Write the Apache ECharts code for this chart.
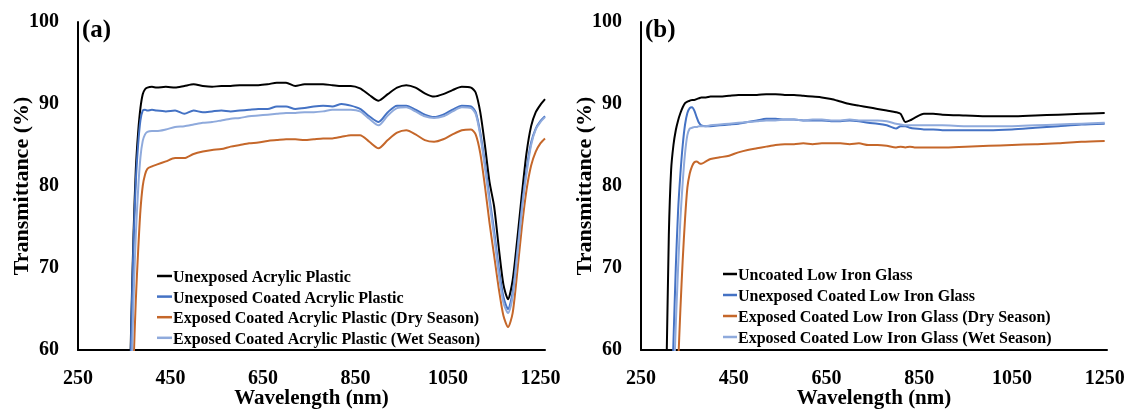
<!DOCTYPE html>
<html>
<head>
<meta charset="utf-8">
<script src="https://cdn.jsdelivr.net/npm/echarts@6/dist/echarts.min.js"></script>
<style>
  html, body { margin: 0; padding: 0; background: #ffffff; }
  #chart { width: 1136px; height: 412px; }
</style>
</head>
<body>
<div id="chart"></div>
<script>
// Panel (a): acrylic plastic transmittance spectra
const wavelengthA = [355, 360, 365, 370, 375, 380, 385, 390, 395, 400, 410, 420, 440, 460, 480, 500, 520, 540, 560, 580, 600, 620, 640, 660, 680, 700, 720, 740, 760, 780, 800, 820, 840, 860, 880, 900, 920, 940, 960, 980, 1000, 1020, 1040, 1060, 1080, 1100, 1110, 1120, 1130, 1140, 1150, 1160, 1170, 1180, 1190, 1200, 1210, 1220, 1230, 1240, 1250, 1260];
const unexposedAcrylic = [40, 50, 63, 74, 82, 86.5, 89.5, 91.2, 91.8, 92.0, 92.1, 92.0, 92.1, 92.0, 92.2, 92.4, 92.2, 92.1, 92.2, 92.2, 92.3, 92.3, 92.3, 92.4, 92.6, 92.6, 92.2, 92.4, 92.4, 92.4, 92.3, 92.2, 92.2, 91.9, 91.1, 90.4, 91.2, 92.0, 92.3, 92.0, 91.3, 90.9, 91.2, 91.7, 92.1, 92.0, 91.4, 89.0, 85.0, 80.5, 77.5, 72.5, 68.0, 66.2, 68.5, 73.5, 79.0, 84.0, 87.3, 89.0, 89.9, 90.6];
const unexposedCoatedAcrylic = [38, 48, 62, 73, 80.5, 85, 88, 89.2, 89.3, 89.2, 89.3, 89.2, 89.1, 89.2, 88.8, 89.2, 89.0, 89.1, 89.2, 89.1, 89.2, 89.3, 89.4, 89.4, 89.7, 89.7, 89.4, 89.5, 89.7, 89.8, 89.7, 90.0, 89.8, 89.4, 88.5, 87.8, 89.0, 89.8, 89.8, 89.3, 88.7, 88.4, 88.7, 89.3, 89.8, 89.7, 89.0, 86.5, 82.8, 78.5, 74.5, 70.0, 66.5, 65.0, 67.0, 72.0, 77.5, 82.0, 85.3, 87.0, 87.9, 88.5];
const dryAcrylic = [25, 35, 48, 58, 66, 72, 77, 80, 81.4, 82.1, 82.4, 82.6, 83.0, 83.4, 83.4, 83.9, 84.2, 84.4, 84.5, 84.8, 85.0, 85.2, 85.3, 85.5, 85.6, 85.7, 85.7, 85.6, 85.7, 85.8, 85.8, 86.0, 86.2, 86.2, 85.4, 84.6, 85.6, 86.5, 86.8, 86.3, 85.6, 85.4, 85.7, 86.3, 86.8, 86.9, 86.3, 84.0, 80.0, 75.5, 71.5, 67.5, 64.2, 62.8, 64.5, 69.5, 75.0, 79.5, 82.5, 84.2, 85.2, 85.8];
const wetAcrylic = [30, 40, 55, 66, 74, 79.5, 83.5, 85.5, 86.3, 86.6, 86.7, 86.7, 86.9, 87.2, 87.3, 87.5, 87.7, 87.8, 88.0, 88.2, 88.3, 88.5, 88.6, 88.7, 88.8, 88.9, 88.9, 89.0, 89.0, 89.1, 89.3, 89.3, 89.3, 89.1, 88.2, 87.4, 88.6, 89.5, 89.6, 89.1, 88.5, 88.3, 88.5, 89.1, 89.6, 89.5, 88.8, 86.2, 82.3, 78.0, 73.8, 69.3, 65.8, 64.5, 66.5, 71.5, 77.0, 81.5, 85.0, 86.9, 87.8, 88.4];

// Panel (b): low iron glass transmittance spectra
const wavelengthB = [295, 300, 305, 310, 315, 320, 325, 330, 335, 340, 345, 350, 355, 360, 365, 370, 375, 380, 390, 400, 420, 440, 460, 480, 500, 520, 540, 560, 580, 600, 620, 640, 660, 680, 700, 720, 740, 760, 780, 800, 810, 820, 830, 840, 860, 880, 900, 950, 1000, 1050, 1100, 1150, 1200, 1250];
const uncoatedGlass = [40, 48, 58, 74, 82, 85, 86.8, 88.0, 88.9, 89.6, 90.1, 90.3, 90.4, 90.5, 90.5, 90.6, 90.7, 90.8, 90.8, 90.9, 90.9, 91.0, 91.1, 91.1, 91.1, 91.2, 91.2, 91.1, 91.1, 91.0, 90.9, 90.8, 90.6, 90.3, 90.0, 89.8, 89.6, 89.4, 89.2, 89.0, 88.8, 87.8, 88.0, 88.3, 88.8, 88.8, 88.7, 88.6, 88.5, 88.5, 88.6, 88.7, 88.8, 88.9];
const unexposedCoatedGlass = [30, 35, 40, 45, 52, 61, 70, 77, 81.5, 85, 87.5, 88.9, 89.5, 89.6, 89.2, 88.4, 87.7, 87.4, 87.3, 87.3, 87.4, 87.5, 87.6, 87.8, 88.0, 88.2, 88.2, 88.1, 88.1, 88.0, 88.0, 88.0, 87.9, 87.9, 88.0, 87.9, 87.7, 87.6, 87.4, 87.0, 87.3, 87.3, 87.1, 87.0, 86.9, 86.9, 86.8, 86.8, 86.8, 86.9, 87.1, 87.3, 87.5, 87.6];
const dryGlass = [20, 24, 28, 32, 37, 43, 50, 58, 65, 71, 76, 79.8, 81.5, 82.4, 82.9, 83.0, 82.8, 82.7, 83.0, 83.3, 83.5, 83.7, 84.1, 84.4, 84.6, 84.8, 85.0, 85.1, 85.1, 85.2, 85.1, 85.2, 85.2, 85.2, 85.1, 85.2, 85.0, 85.0, 84.9, 84.7, 84.8, 84.7, 84.8, 84.7, 84.7, 84.7, 84.7, 84.8, 84.9, 85.0, 85.1, 85.2, 85.4, 85.5];
const wetGlass = [28, 32, 37, 42, 48, 55, 63, 70, 76, 80.5, 84, 86.2, 87.0, 87.1, 87.2, 87.2, 87.3, 87.3, 87.3, 87.4, 87.5, 87.6, 87.7, 87.8, 87.9, 88.0, 88.0, 88.1, 88.1, 88.0, 88.1, 88.1, 88.0, 88.0, 88.1, 88.0, 88.0, 88.0, 87.9, 87.6, 87.5, 87.4, 87.4, 87.4, 87.4, 87.4, 87.4, 87.3, 87.3, 87.3, 87.4, 87.5, 87.6, 87.7];

const namesA = ['Unexposed Acrylic Plastic', 'Unexposed Coated Acrylic Plastic', 'Exposed Coated Acrylic Plastic (Dry Season)', 'Exposed Coated Acrylic Plastic (Wet Season)'];
const namesB = ['Uncoated Low Iron Glass', 'Unexposed Coated Low Iron Glass', 'Exposed Coated Low Iron Glass (Dry Season)', 'Exposed Coated Low Iron Glass (Wet Season)'];
const colors = ['#000000', '#4472C4', '#C5672A', '#8FAADC'];
const yTicks = [60, 70, 80, 90, 100];
const xTicks = [250, 450, 650, 850, 1050, 1250];

const FONT = '"Times New Roman", "Liberation Serif", serif';

function pairs(xs, ys) { return xs.map((x, i) => [x, ys[i]]); }

function xAxisFor(gridIndex, max) {
  return {
    gridIndex, type: 'value', min: xTicks[0], max, interval: 200,
    name: 'Wavelength (nm)', nameLocation: 'middle', nameGap: 38, nameMoveOverlap: false,
    nameTextStyle: { fontFamily: FONT, fontWeight: 'bold', fontSize: 21, color: '#000' },
    axisLine: { show: true, lineStyle: { color: '#000', width: 2 } },
    axisTick: { show: false }, splitLine: { show: false },
    axisLabel: {
      margin: 19, fontFamily: FONT, fontWeight: 'bold', fontSize: 20, color: '#000',
      formatter: v => (xTicks.includes(v) ? String(v) : '')
    }
  };
}
function yAxisFor(gridIndex) {
  return {
    gridIndex, type: 'value', min: yTicks[0], max: yTicks[yTicks.length - 1], interval: 10,
    name: 'Transmittance (%)', nameLocation: 'middle', nameGap: 45, nameMoveOverlap: false,
    nameTextStyle: { fontFamily: FONT, fontWeight: 'bold', fontSize: 22, color: '#000' },
    axisLine: { show: true, lineStyle: { color: '#000', width: 2 } },
    axisTick: { show: false }, splitLine: { show: false },
    axisLabel: { margin: 19, fontFamily: FONT, fontWeight: 'bold', fontSize: 20, color: '#000' }
  };
}
function lineSeries(name, data, color, idx) {
  return {
    type: 'line', name, data, xAxisIndex: idx, yAxisIndex: idx,
    showSymbol: false, smooth: 0.25, clip: true,
    lineStyle: { color, width: 2 }, itemStyle: { color },
    emphasis: { disabled: true }
  };
}
// Legend block: short coloured dash followed by the series name, one row per series
function legendGraphic(names, x, y0, dash, rowGap) {
  const children = [];
  names.forEach((name, i) => {
    const cy = y0 + i * rowGap;
    children.push({
      type: 'line', shape: { x1: x, y1: cy, x2: x + dash, y2: cy },
      style: { stroke: colors[i], lineWidth: 2.5 }, silent: true
    });
    children.push({
      type: 'text', x: x + dash + 1, y: cy + 2,
      style: { text: name, font: 'bold 16px ' + FONT, fill: '#000', verticalAlign: 'middle', textAlign: 'left' },
      silent: true
    });
  });
  return { type: 'group', children };
}

const seriesA = [unexposedAcrylic, unexposedCoatedAcrylic, dryAcrylic, wetAcrylic];
const seriesB = [uncoatedGlass, unexposedCoatedGlass, dryGlass, wetGlass];

const option = {
  animation: false,
  backgroundColor: '#ffffff',
  grid: [
    { left: 78, top: 22, width: 467, height: 328, containLabel: false, outerBoundsMode: 'none' },
    { left: 641, top: 22, width: 466, height: 328, containLabel: false, outerBoundsMode: 'none' }
  ],
  xAxis: [xAxisFor(0, 1260), xAxisFor(1, 1255)],
  yAxis: [yAxisFor(0), yAxisFor(1)],
  graphic: [
    { type: 'text', left: 82, top: 18, style: { text: '(a)', font: 'bold 25px ' + FONT, fill: '#000' } },
    { type: 'text', left: 645, top: 18, style: { text: '(b)', font: 'bold 25px ' + FONT, fill: '#000' } },
    legendGraphic(namesA, 157, 276, 15, 20.6),
    legendGraphic(namesB, 723, 274, 14, 21)
  ],
  series: [
    ...seriesA.map((s, i) => lineSeries(namesA[i], pairs(wavelengthA, s), colors[i], 0)),
    ...seriesB.map((s, i) => lineSeries(namesB[i], pairs(wavelengthB, s), colors[i], 1))
  ]
};

const chart = echarts.init(document.getElementById('chart'), null, { renderer: 'canvas' });
chart.setOption(option);
</script>
</body>
</html>
